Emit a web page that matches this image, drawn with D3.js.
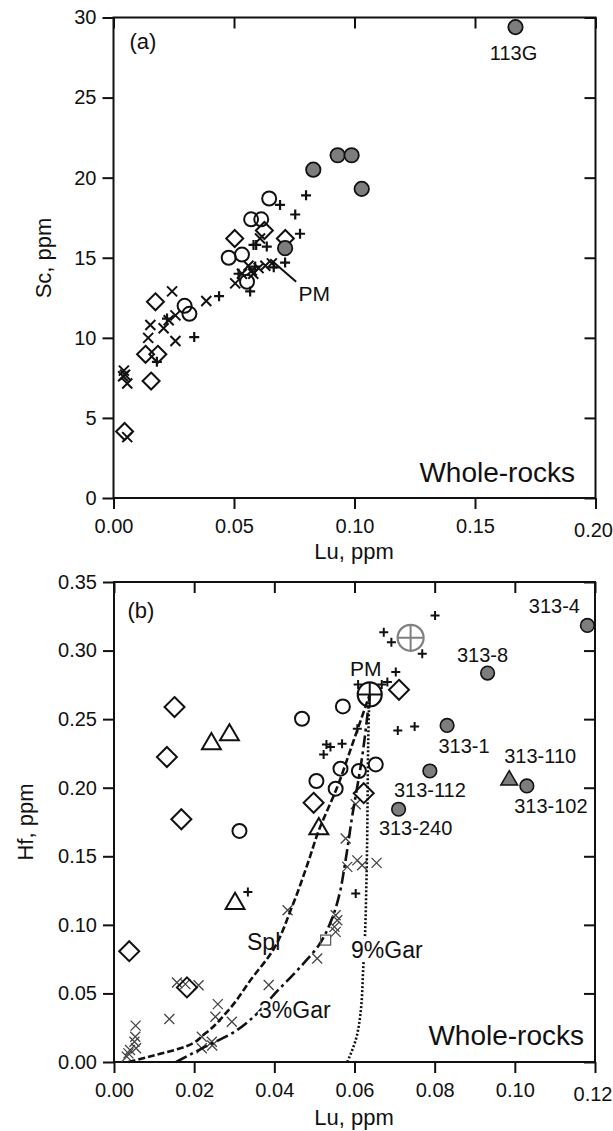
<!DOCTYPE html>
<html>
<head>
<meta charset="utf-8">
<script src="https://cdn.jsdelivr.net/npm/d3@7"></script>
<style>
  body { margin: 0; background: #fff; }
  text { font-family: "Liberation Sans", Arial, sans-serif; fill: #111; }
</style>
</head>
<body>
<script>
// ---------- panel (a) : Sc vs Lu ----------
var aXTicks = [0, 0.05, 0.10, 0.15, 0.20];
var aYTicks = [0, 5, 10, 15, 20, 25, 30];
var aGray = [[0.0829, 20.5], [0.093, 21.4], [0.0988, 21.4], [0.103, 19.3], [0.0712, 15.6], [0.1668, 29.4]];
var aCircle = [[0.0646, 18.7], [0.0571, 17.4], [0.0613, 17.4], [0.0478, 15.0], [0.0533, 15.2],
               [0.0554, 13.5], [0.0295, 12.0], [0.0315, 11.5]];
var aDiamond = [[0.0503, 16.2], [0.0626, 16.7], [0.0713, 16.2], [0.0174, 12.25], [0.0133, 8.97],
                [0.0184, 8.97], [0.0156, 7.3], [0.0046, 4.15]];
var aPlus = [[0.0799, 18.9], [0.0754, 17.7], [0.0774, 16.5], [0.0691, 18.3], [0.0592, 15.8],
             [0.0636, 15.7], [0.0712, 14.7], [0.0567, 12.9], [0.0438, 12.6], [0.0335, 10.05],
             [0.018, 8.5], [0.0222, 11.2], [0.0519, 14.0], [0.0588, 14.45], [0.0581, 15.8], [0.0665, 14.4]];
var aCross = [[0.0243, 12.9], [0.0385, 12.3], [0.0153, 10.8], [0.0144, 10.0], [0.0257, 9.8],
              [0.0208, 10.6], [0.0229, 11.1], [0.0257, 11.4], [0.0043, 7.95], [0.0048, 7.7],
              [0.004, 7.6], [0.0057, 7.15], [0.0057, 3.8], [0.0505, 13.4], [0.0533, 14.0],
              [0.0574, 14.2], [0.0602, 14.35], [0.063, 14.5], [0.0657, 14.65], [0.058, 14.0],
              [0.056, 14.5], [0.0608, 16.2]];
var aPmArrow = [[0.0758, 13.5], [0.065, 14.9]];

// ---------- panel (b) : Hf vs Lu ----------
var bXTicks = [0, 0.02, 0.04, 0.06, 0.08, 0.10, 0.12];
var bYTicks = [0, 0.05, 0.10, 0.15, 0.20, 0.25, 0.30, 0.35];
var bGrayNames = ["313-4", "313-8", "313-1", "313-112", "313-240", "313-102"];
var bGray = [[0.1181, 0.3183], [0.0932, 0.2836], [0.0831, 0.2454], [0.0788, 0.2122], [0.071, 0.1843], [0.103, 0.2013]];
var bGrayTriangle = [[0.0986, 0.2066]];
var bDiamond = [[0.0151, 0.2588], [0.0132, 0.2224], [0.0168, 0.177], [0.0498, 0.189], [0.0038, 0.0808],
                [0.0182, 0.0544], [0.0711, 0.2714], [0.0623, 0.196]];
var bTriangle = [[0.0243, 0.2333], [0.0288, 0.2398], [0.0511, 0.1714], [0.0302, 0.1168]];
var bCircle = [[0.0571, 0.2593], [0.0469, 0.2503], [0.0565, 0.2139], [0.0611, 0.2122], [0.0653, 0.217],
               [0.0553, 0.1993], [0.0505, 0.2049], [0.0313, 0.1685]];
var bPlus = [[0.0801, 0.3256], [0.0673, 0.3134], [0.0692, 0.3061], [0.0769, 0.2977], [0.0703, 0.2843],
             [0.0682, 0.277], [0.0609, 0.2753], [0.0668, 0.2753], [0.0708, 0.2418], [0.075, 0.2447],
             [0.0607, 0.243], [0.053, 0.2316], [0.054, 0.2297], [0.0569, 0.2321], [0.0523, 0.2243],
             [0.0334, 0.124], [0.0603, 0.1229]];
var bCross = [[0.0603, 0.188], [0.0578, 0.163], [0.0582, 0.1423], [0.0607, 0.147], [0.0619, 0.1435],
              [0.0655, 0.1452], [0.0553, 0.107], [0.0557, 0.1034], [0.055, 0.0985], [0.0553, 0.0949],
              [0.0507, 0.0755], [0.0386, 0.0561], [0.0157, 0.058], [0.0178, 0.0568], [0.0211, 0.056],
              [0.0138, 0.0313], [0.0054, 0.0265], [0.0053, 0.0184], [0.0051, 0.0148], [0.004, 0.0087],
              [0.0036, 0.0063], [0.0032, 0.0039], [0.0259, 0.0422], [0.0253, 0.033], [0.0294, 0.0294],
              [0.0219, 0.0184], [0.0244, 0.0148], [0.0219, 0.01], [0.0433, 0.1107], [0.0245, 0.012],
              [0.0055, 0.01]];
var bSquare = [[0.0528, 0.0889]];
var bPM = [[0.0638, 0.268]];
var bGrayPM = [[0.074, 0.3093]];

// melting curves
var splLu = [0.0036, 0.0103, 0.0178, 0.0228, 0.0286, 0.0344, 0.0394, 0.0444, 0.0486, 0.0508, 0.0557, 0.0598, 0.0638];
var splHf = [0, 0.005, 0.0112, 0.0209, 0.0379, 0.061, 0.0803, 0.1131, 0.1471, 0.1666, 0.2005, 0.2345, 0.268];
var gar3Lu = [0.0155, 0.0228, 0.0294, 0.0353, 0.0398, 0.0473, 0.0511, 0.0544, 0.0563, 0.0575, 0.0594, 0.0619, 0.0638];
var gar3Hf = [0, 0.0112, 0.0209, 0.0342, 0.0488, 0.0719, 0.0852, 0.1047, 0.1229, 0.1422, 0.1787, 0.2224, 0.268];
var gar9Lu = [0.0582, 0.0603, 0.0615, 0.0622, 0.0626, 0.063, 0.0636, 0.0638];
var gar9Hf = [0, 0.016, 0.0355, 0.0694, 0.0913, 0.135, 0.2564, 0.268];

var width = 613, height = 1131;
var svg = d3.select("body").append("svg")
    .attr("width", width)
    .attr("height", height);

function frame(x, y, xTicks, yTicks, xFmt, yFmt) {
    var g = svg.append("g");
    var x0 = x.range()[0], x1 = x.range()[1], y0 = y.range()[0], y1 = y.range()[1];
    var bottom = g.append("g").attr("transform", "translate(0," + y0 + ")")
        .call(d3.axisBottom(x).tickValues(xTicks).tickFormat(d3.format(xFmt)).tickSizeInner(11).tickSizeOuter(0).tickPadding(10));
    g.append("g").attr("transform", "translate(" + x0 + ",0)")
        .call(d3.axisLeft(y).tickValues(yTicks).tickFormat(d3.format(yFmt)).tickSizeInner(11).tickSizeOuter(0).tickPadding(6));
    g.append("g").attr("transform", "translate(0," + y1 + ")")
        .call(d3.axisTop(x).tickValues(xTicks).tickFormat("").tickSizeInner(-11).tickSizeOuter(0));
    g.append("g").attr("transform", "translate(" + x1 + ",0)")
        .call(d3.axisRight(y).tickValues(yTicks).tickFormat("").tickSizeInner(-11).tickSizeOuter(0));
    g.selectAll(".domain").remove();
    g.selectAll(".tick line").attr("stroke", "#111").attr("stroke-width", 2);
    g.selectAll(".tick text").style("font-size", "20px").attr("fill", "#111");
    // last x label would run off the page: pull it in
    bottom.selectAll(".tick text").filter(d => d === xTicks[xTicks.length - 1])
        .attr("text-anchor", "end").attr("x", 17).attr("dy", "0.9em");
    g.append("rect")
        .attr("x", x0).attr("y", y1)
        .attr("width", x1 - x0).attr("height", y0 - y1)
        .attr("fill", "none").attr("stroke", "#111").attr("stroke-width", 2);
    return g;
}

function circles(g, data, x, y, r, fill, stroke, sw) {
    g.selectAll(null).data(data).enter().append("circle")
        .attr("cx", d => x(d[0])).attr("cy", d => y(d[1])).attr("r", r)
        .attr("fill", fill).attr("stroke", stroke).attr("stroke-width", sw);
}

function diamonds(g, data, x, y, h, sw) {
    g.selectAll(null).data(data).enter().append("path")
        .attr("d", d => { var cx = x(d[0]), cy = y(d[1]);
            return "M" + cx + "," + (cy - h) + "L" + (cx + h) + "," + cy + "L" + cx + "," + (cy + h) + "L" + (cx - h) + "," + cy + "Z"; })
        .attr("fill", "none").attr("stroke", "#111").attr("stroke-width", sw);
}

function triangles(g, data, x, y, h, fill, sw) {
    g.selectAll(null).data(data).enter().append("path")
        .attr("d", d => { var cx = x(d[0]), cy = y(d[1]);
            return "M" + cx + "," + (cy - h) + "L" + (cx + h * 1.05) + "," + (cy + h * 0.8) + "L" + (cx - h * 1.05) + "," + (cy + h * 0.8) + "Z"; })
        .attr("fill", fill).attr("stroke", "#111").attr("stroke-width", sw);
}

function pluses(g, data, x, y, h, stroke, sw) {
    g.selectAll(null).data(data).enter().append("path")
        .attr("d", d => { var cx = x(d[0]), cy = y(d[1]);
            return "M" + (cx - h) + "," + cy + "H" + (cx + h) + "M" + cx + "," + (cy - h) + "V" + (cy + h); })
        .attr("stroke", stroke).attr("stroke-width", sw).attr("fill", "none");
}

function crosses(g, data, x, y, h, stroke, sw) {
    g.selectAll(null).data(data).enter().append("path")
        .attr("d", d => { var cx = x(d[0]), cy = y(d[1]);
            return "M" + (cx - h) + "," + (cy - h) + "L" + (cx + h) + "," + (cy + h) + "M" + (cx - h) + "," + (cy + h) + "L" + (cx + h) + "," + (cy - h); })
        .attr("stroke", stroke).attr("stroke-width", sw).attr("fill", "none");
}

function label(g, txt, px, py, size, anchor) {
    return g.append("text").attr("x", px).attr("y", py)
        .attr("text-anchor", anchor || "middle")
        .style("font-size", size + "px").text(txt);
}

// ===== panel (a) =====
var xa = d3.scaleLinear().domain([0, 0.2]).range([113.5, 595.5]);
var ya = d3.scaleLinear().domain([0, 30]).range([498, 17.5]);
var ga = frame(xa, ya, aXTicks, aYTicks, ".2f", "d");

var pa = svg.append("g");
crosses(pa, aCross, xa, ya, 5, "#111", 2);
pluses(pa, aPlus, xa, ya, 5, "#111", 2.2);
diamonds(pa, aDiamond, xa, ya, 8.5, 2);
circles(pa, aCircle, xa, ya, 7, "none", "#111", 2);
circles(pa, aGray, xa, ya, 7.2, "#7d7d7d", "#111", 1.8);
pa.append("line")
    .attr("x1", xa(aPmArrow[0][0])).attr("y1", ya(aPmArrow[0][1]))
    .attr("x2", xa(aPmArrow[1][0])).attr("y2", ya(aPmArrow[1][1]))
    .attr("stroke", "#111").attr("stroke-width", 2);

label(svg, "(a)", 143, 49, 22);
label(svg, "113G", xa(aGray[5][0]) - 2, ya(aGray[5][1]) + 33, 20);
label(svg, "PM", xa(aPmArrow[0][0]) + 18, ya(aPmArrow[0][1]) + 19, 21);
label(svg, "Whole-rocks", 575, 482, 28, "end");
label(svg, "Lu, ppm", 354, 559, 22);
svg.append("text").attr("transform", "translate(51," + 258 + ") rotate(-90)")
    .attr("text-anchor", "middle").style("font-size", "22px").text("Sc, ppm");

// ===== panel (b) =====
var xb = d3.scaleLinear().domain([0, 0.12]).range([114, 595]);
var yb = d3.scaleLinear().domain([0, 0.35]).range([1062, 582]);
var gb = frame(xb, yb, bXTicks, bYTicks, ".2f", ".2f");

var pb = svg.append("g");
var line = d3.line().x(d => xb(d[0])).y(d => yb(d[1])).curve(d3.curveMonotoneY);

crosses(pb, bCross, xb, yb, 5, "#444", 1.3);
pb.append("path").datum(d3.zip(splLu, splHf)).attr("d", line)
    .attr("fill", "none").attr("stroke", "#111").attr("stroke-width", 2.6).attr("stroke-dasharray", "7,3");
pb.append("path").datum(d3.zip(gar3Lu, gar3Hf)).attr("d", line)
    .attr("fill", "none").attr("stroke", "#111").attr("stroke-width", 2.6).attr("stroke-dasharray", "12,4,3,4");
pb.append("path").datum(d3.zip(gar9Lu, gar9Hf)).attr("d", line)
    .attr("fill", "none").attr("stroke", "#111").attr("stroke-width", 2.6).attr("stroke-dasharray", "2,2");

pb.selectAll(null).data(bSquare).enter().append("rect")
    .attr("x", d => xb(d[0]) - 5).attr("y", d => yb(d[1]) - 5)
    .attr("width", 10).attr("height", 10)
    .attr("fill", "none").attr("stroke", "#555").attr("stroke-width", 1.2);
pluses(pb, bPlus, xb, yb, 4.5, "#111", 2);
diamonds(pb, bDiamond, xb, yb, 10, 2);
triangles(pb, bTriangle, xb, yb, 9, "none", 2);
triangles(pb, bGrayTriangle, xb, yb, 8, "#7d7d7d", 1.5);
circles(pb, bCircle, xb, yb, 7, "none", "#111", 2);
circles(pb, bGray, xb, yb, 6.8, "#7d7d7d", "#111", 1.6);

// PM and grey PM markers
circles(pb, bPM, xb, yb, 12, "none", "#111", 2.2);
pluses(pb, bPM, xb, yb, 12, "#111", 2);
circles(pb, bGrayPM, xb, yb, 13, "none", "#808080", 2.2);
pluses(pb, bGrayPM, xb, yb, 13, "#808080", 2);

label(svg, "(b)", 141, 618, 22);
label(svg, "PM", xb(bPM[0][0]) - 4, yb(bPM[0][1]) - 18, 21);
var nameOffsets = [[-33, -12], [-5, -11], [17, 28], [0, 26], [17, 26], [24, 27]];
bGrayNames.forEach(function (n, i) {
    label(svg, n, xb(bGray[i][0]) + nameOffsets[i][0], yb(bGray[i][1]) + nameOffsets[i][1], 20);
});
label(svg, "313-110", xb(bGrayTriangle[0][0]) + 31, yb(bGrayTriangle[0][1]) - 16, 20);

label(svg, "Spl", 247, 950, 23, "start");
label(svg, "3%Gar", 259, 1018, 23, "start")
    .style("stroke", "#fff").style("stroke-width", 4).style("paint-order", "stroke");
label(svg, "9%Gar", 351, 958, 23, "start")
    .style("stroke", "#fff").style("stroke-width", 8).style("paint-order", "stroke");
label(svg, "Whole-rocks", 584, 1045, 28, "end");
label(svg, "Lu, ppm", 354, 1125, 22);
svg.append("text").attr("transform", "translate(33," + 822 + ") rotate(-90)")
    .attr("text-anchor", "middle").style("font-size", "22px").text("Hf, ppm");
</script>
</body>
</html>
